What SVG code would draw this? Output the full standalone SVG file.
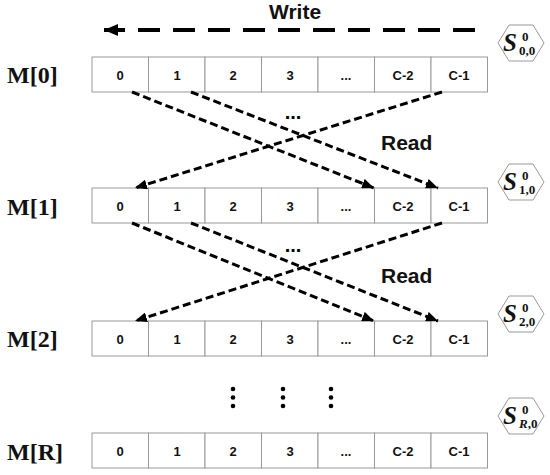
<svg xmlns="http://www.w3.org/2000/svg" width="550" height="475" viewBox="0 0 550 475">
<style>
.cell{fill:#fff;stroke:#999;stroke-width:1}
.ct{font-family:"Liberation Sans",Arial,sans-serif;font-weight:bold;font-size:13px;text-anchor:middle;fill:#111}
.ml{font-family:"Liberation Serif","Times New Roman",serif;font-weight:bold;font-size:24px;fill:#111}
.lbl{font-family:"Liberation Sans",Arial,sans-serif;font-weight:bold;font-size:21px;fill:#111}
.rd{fill:none;stroke:#000;stroke-width:3;stroke-dasharray:8 4}
.hex{fill:#fff;stroke:#999;stroke-width:1}
.sS{font-family:"Liberation Serif","Times New Roman",serif;font-weight:bold;font-style:italic;font-size:25px;fill:#111}
.sm{font-family:"Liberation Serif","Times New Roman",serif;font-weight:bold;font-size:13px;fill:#111}
.dots{font-family:"Liberation Sans",Arial,sans-serif;font-weight:bold;font-size:20px;text-anchor:middle;fill:#000}
</style>
<defs>
<marker id="ah" markerUnits="userSpaceOnUse" markerWidth="12" markerHeight="10" refX="12" refY="5" orient="auto">
<path d="M0,0 L12,5 L0,10 z" fill="#000"/>
</marker>
<marker id="wh" markerUnits="userSpaceOnUse" markerWidth="14" markerHeight="12" refX="14" refY="6" orient="auto">
<path d="M0,0 L14,6 L0,12 z" fill="#000"/>
</marker>
<g id="rowcells">
<rect class="cell" x="92" y="0" width="56.5" height="35"/>
<rect class="cell" x="148.5" y="0" width="56.5" height="35"/>
<rect class="cell" x="205" y="0" width="56.5" height="35"/>
<rect class="cell" x="261.5" y="0" width="56.5" height="35"/>
<rect class="cell" x="318" y="0" width="56.5" height="35"/>
<rect class="cell" x="374.5" y="0" width="56.5" height="35"/>
<rect class="cell" x="431" y="0" width="56.5" height="35"/>
<text class="ct" x="120" y="22.5">0</text>
<text class="ct" x="177" y="22.5">1</text>
<text class="ct" x="233" y="22.5">2</text>
<text class="ct" x="290" y="22.5">3</text>
<text class="ct" x="346" y="22.5">...</text>
<text class="ct" x="403" y="22.5">C-2</text>
<text class="ct" x="459" y="22.5">C-1</text>
</g>
<polygon id="hexshape" class="hex" points="-23,0 -12,-18 12,-18 23,0 12,18 -12,18"/>
</defs>

<g id="write">
<line x1="475" y1="30" x2="104" y2="30" stroke="#000" stroke-width="4" stroke-dasharray="22 13" marker-end="url(#wh)"/>
<text class="lbl" x="295" y="19" text-anchor="middle">Write</text>
</g>

<g id="row0">
<text class="ml" x="7" y="83">M[0]</text>
<use href="#rowcells" x="0" y="57"/>
</g>
<g id="row1">
<text class="ml" x="7" y="215">M[1]</text>
<use href="#rowcells" x="0" y="188"/>
</g>
<g id="row2">
<text class="ml" x="7" y="347">M[2]</text>
<use href="#rowcells" x="0" y="321"/>
</g>
<g id="rowR">
<text class="ml" x="7" y="460">M[R]</text>
<use href="#rowcells" x="0" y="433"/>
</g>

<g id="s00">
<use href="#hexshape" x="521" y="43"/>
<text class="sS" x="503" y="51">S</text><text class="sm" x="522" y="41">0</text><text class="sm" x="519" y="55">0,0</text>
</g>
<g id="s10">
<use href="#hexshape" x="521" y="182"/>
<text class="sS" x="503" y="190">S</text><text class="sm" x="522" y="180">0</text><text class="sm" x="519" y="194">1,0</text>
</g>
<g id="s20">
<use href="#hexshape" x="521" y="314"/>
<text class="sS" x="503" y="322">S</text><text class="sm" x="522" y="312">0</text><text class="sm" x="519" y="326">2,0</text>
</g>
<g id="sR0">
<use href="#hexshape" x="521" y="416"/>
<text class="sS" x="503" y="424">S</text><text class="sm" x="522" y="414">0</text><text class="sm" x="519" y="428"><tspan font-style="italic">R</tspan>,0</text>
</g>

<g id="connectors">
<line class="rd" x1="132" y1="92" x2="374" y2="188" marker-end="url(#ah)"/>
<line class="rd" x1="191" y1="92" x2="438" y2="188" marker-end="url(#ah)"/>
<line class="rd" x1="442" y1="92" x2="135" y2="188" marker-end="url(#ah)"/>
<line class="rd" x1="132" y1="223" x2="374" y2="321" marker-end="url(#ah)"/>
<line class="rd" x1="191" y1="223" x2="438" y2="321" marker-end="url(#ah)"/>
<line class="rd" x1="442" y1="223" x2="135" y2="321" marker-end="url(#ah)"/>
</g>

<g id="labels">
<text class="dots" x="293" y="119">...</text>
<text class="lbl" x="381" y="150">Read</text>
<text class="dots" x="293" y="252">...</text>
<text class="lbl" x="381" y="283">Read</text>
</g>

<g id="vdots" fill="#000">
<circle cx="233" cy="389" r="2.3"/><circle cx="233" cy="397.5" r="2.3"/><circle cx="233" cy="406" r="2.3"/>
<circle cx="283" cy="389" r="2.3"/><circle cx="283" cy="397.5" r="2.3"/><circle cx="283" cy="406" r="2.3"/>
<circle cx="331" cy="389" r="2.3"/><circle cx="331" cy="397.5" r="2.3"/><circle cx="331" cy="406" r="2.3"/>
</g>
</svg>
